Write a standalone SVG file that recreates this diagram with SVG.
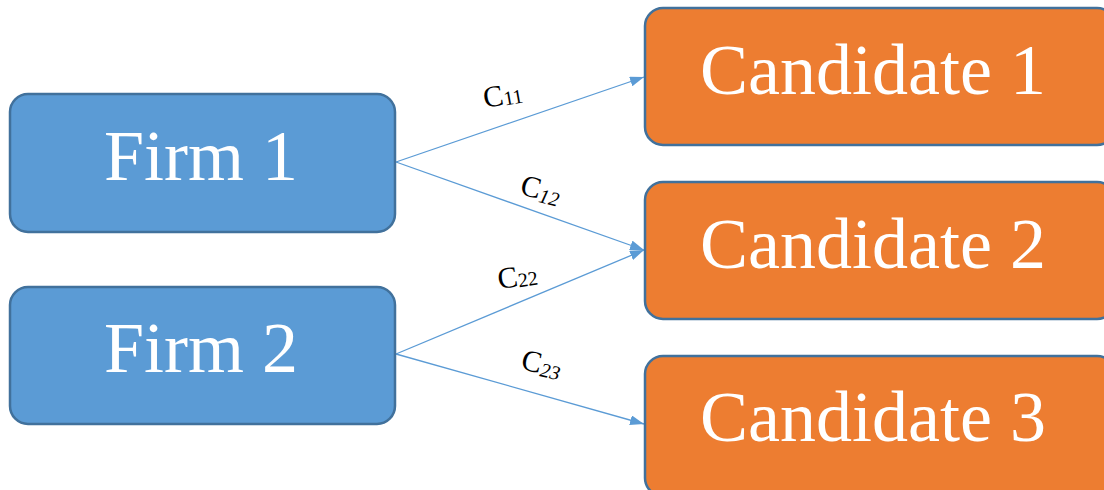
<svg xmlns="http://www.w3.org/2000/svg" width="1104" height="490" viewBox="0 0 1104 490">
  <style>
    .firm { fill: #5B9BD5; stroke: #41719C; stroke-width: 2.5; }
    .cand { fill: #ED7D31; stroke: #41719C; stroke-width: 2.5; }
    .big { font-family: "Liberation Serif", "Times New Roman", serif; font-size: 72px; fill: #FFFFFF; text-anchor: middle; }
    .edge { stroke: #5B9BD5; stroke-width: 1.3; fill: none; marker-end: url(#arrow); }
    .lbl { font-family: "Liberation Serif", "Times New Roman", serif; font-size: 30px; fill: #000000; }
    .sub { font-size: 20px; }
  </style>
  <defs>
    <marker id="arrow" viewBox="0 0 10 10" refX="10" refY="5" markerWidth="14" markerHeight="10" markerUnits="userSpaceOnUse" orient="auto" preserveAspectRatio="none">
      <path d="M0,0 L10,5 L0,10 Z" fill="#5B9BD5"/>
    </marker>
  </defs>

  <!-- connectors -->
  <g id="connectors">
    <line class="edge" x1="396" y1="162" x2="644" y2="77"/>
    <line class="edge" x1="396" y1="162" x2="644" y2="250"/>
    <line class="edge" x1="396" y1="354" x2="644" y2="250"/>
    <line class="edge" x1="396" y1="354" x2="644" y2="424"/>
    <text class="lbl" transform="translate(485,108) rotate(-10)">C<tspan class="sub" dy="1">11</tspan></text>
    <text class="lbl" transform="translate(519,194) rotate(14)">C<tspan class="sub" dy="3" font-style="italic">12</tspan></text>
    <text class="lbl" transform="translate(499,289) rotate(-8)">C<tspan class="sub" dy="1">22</tspan></text>
    <text class="lbl" transform="translate(520,369) rotate(12)">C<tspan class="sub" dy="3" font-style="italic">23</tspan></text>
  </g>

  <!-- firms -->
  <g id="firm1">
    <rect class="firm" x="10" y="94" width="385" height="138" rx="18"/>
    <text class="big" x="201" y="180">Firm 1</text>
  </g>
  <g id="firm2">
    <rect class="firm" x="10" y="287" width="385" height="137" rx="18"/>
    <text class="big" x="201" y="372">Firm 2</text>
  </g>

  <!-- candidates -->
  <g id="candidate1">
    <rect class="cand" x="645" y="8" width="470" height="137" rx="18"/>
    <text class="big" x="873" y="94">Candidate 1</text>
  </g>
  <g id="candidate2">
    <rect class="cand" x="645" y="182" width="470" height="137" rx="18"/>
    <text class="big" x="873" y="268">Candidate 2</text>
  </g>
  <g id="candidate3">
    <rect class="cand" x="645" y="356" width="470" height="140" rx="18"/>
    <text class="big" x="873" y="441">Candidate 3</text>
  </g>
</svg>
